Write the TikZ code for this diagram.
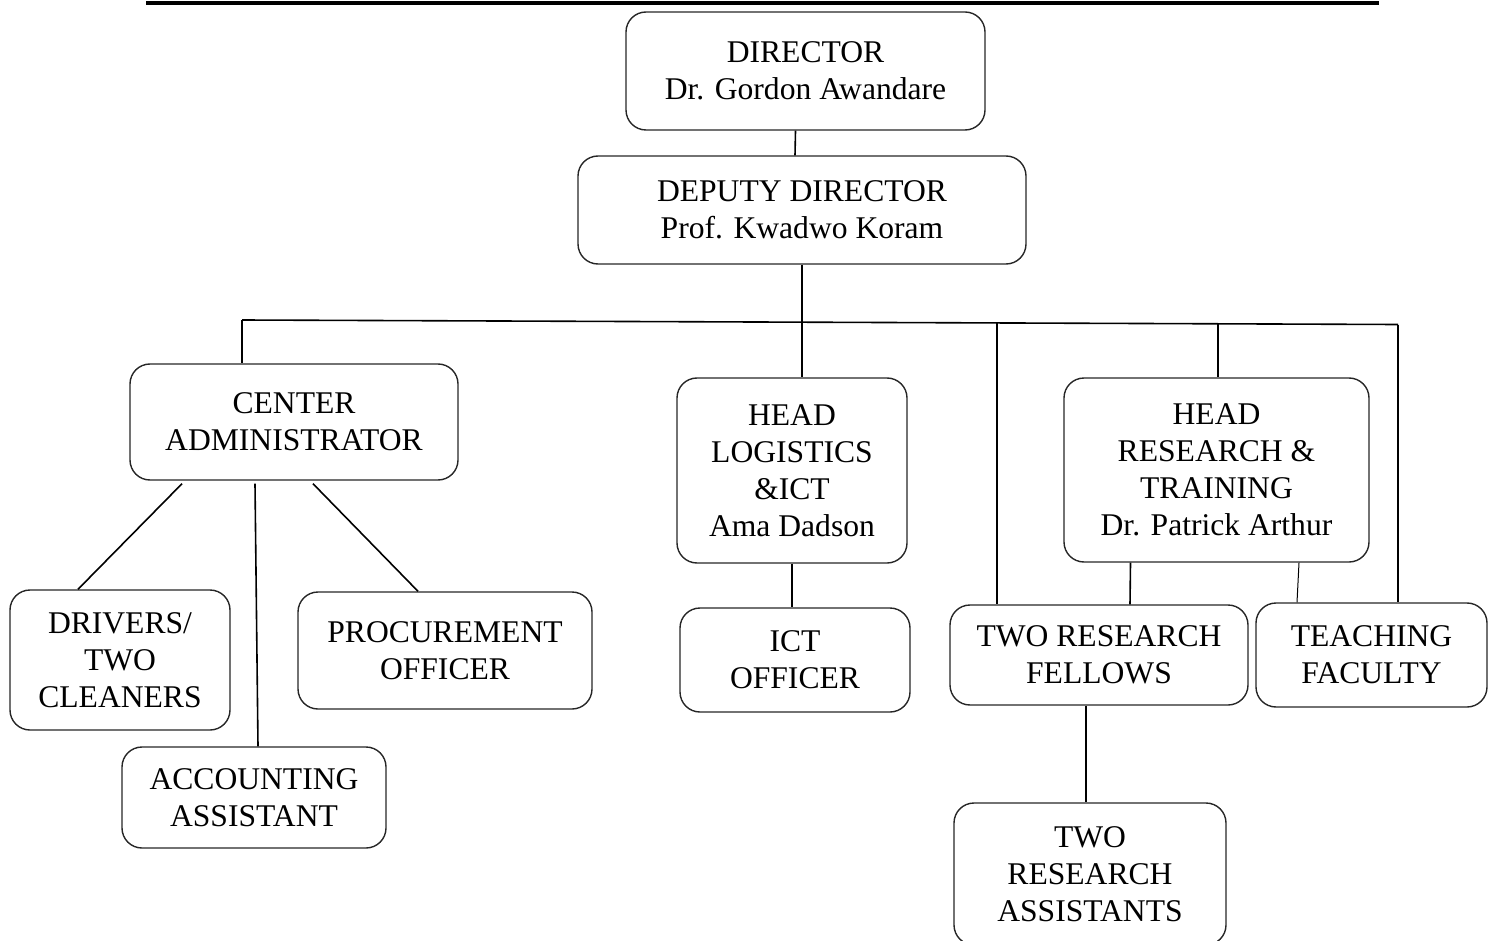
\documentclass[tikz,border=0pt]{standalone}
\usepackage{fontspec}
\setmainfont{Liberation Serif}

\begin{document}
\begin{tikzpicture}
		[x=1pt,y=-1pt,line width=1.6pt,
		unit/.style= {draw=black!85,rounded corners=20pt,align=center,inner sep=0pt,line width=1.4pt,
			font=\fontsize{31.6}{37}\selectfont}]

		\clip (0,0) rectangle (1491,941);
		\draw[line width=4.5pt] (146,3) -- (1379,3);

		\node[unit,minimum width=359,minimum height=118] (dir) at (805.5,71) {DIRECTOR\\Dr. Gordon Awandare};
		\node[unit,minimum width=448,minimum height=108] (dep) at (802,210) {DEPUTY DIRECTOR\\Prof. Kwadwo Koram};
		\draw ([xshift=-10pt]dir.south) -- ([xshift=-7pt]dep.north);

		\coordinate (busL) at (242,320);
		\coordinate (busR) at (1398,324.5);
		\coordinate (bus3) at (997,322.8);
		\coordinate (bus4) at (1218,323.6);
		\draw (busL) -- (busR);

		\node[unit,minimum width=328,minimum height=116] (adm) at (294,422) {CENTER\\ADMINISTRATOR};
		\draw (busL) -- (busL |- adm.north);
		\node[unit,minimum width=230,minimum height=185] (log) at (792,470.5) {HEAD\\LOGISTICS\\\&ICT\\Ama Dadson};
		\draw (dep.south) -- (dep.south |- log.north);
		\node[unit,minimum width=305,minimum height=184] (res) at (1216.5,470) {HEAD\\RESEARCH \&\\TRAINING\\Dr. Patrick Arthur};
		\draw (bus4) -- (bus4 |- res.north);

		\node[unit,minimum width=220,minimum height=140] (drv) at (120,660) {DRIVERS/\\TWO\\CLEANERS};
		\node[unit,minimum width=264,minimum height=101] (acc) at (254,797.5) {ACCOUNTING\\ASSISTANT};
		\node[unit,minimum width=294,minimum height=117] (pro) at (445,650.5) {PROCUREMENT\\OFFICER};
		\draw ([xshift=-112pt,yshift=-3pt]adm.south) -- ([xshift=-42pt]drv.north);
		\draw ([xshift=-39pt,yshift=-3pt]adm.south) -- ([xshift=4pt]acc.north);
		\draw ([xshift=19pt,yshift=-3pt]adm.south) -- ([xshift=-27pt]pro.north);

		\node[unit,minimum width=230,minimum height=104] (ict) at (795,660) {ICT\\OFFICER};
		\draw (log.south) -- (log.south |- ict.north);

		\node[unit,minimum width=298,minimum height=100] (fel) at (1099,655) {TWO RESEARCH\\FELLOWS};
		\node[unit,minimum width=231,minimum height=104] (fac) at (1371.5,655) {TEACHING\\FACULTY};
		\draw (bus3) -- (bus3 |- fel.north);
		\draw (busR) -- (busR |- fac.north);
		\draw ([xshift=-86pt]res.south) -- ([xshift=31pt]fel.north);
		\draw[line width=1pt] ([xshift=82.5pt]res.south) -- ([xshift=-74.5pt]fac.north);

		\node[unit,minimum width=272,minimum height=142] (ast) at (1090,874) {TWO\\RESEARCH\\ASSISTANTS};
		\draw ([xshift=-13pt]fel.south) -- ([xshift=-4pt]ast.north);

	\end{tikzpicture}
\end{document}
